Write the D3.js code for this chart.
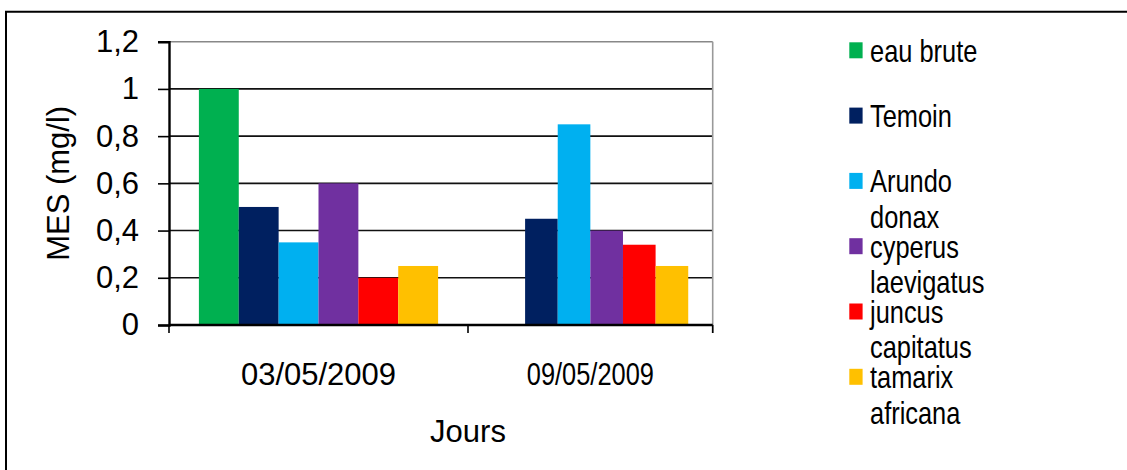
<!DOCTYPE html>
<html>
<head>
<meta charset="utf-8">
<script src="https://cdn.jsdelivr.net/npm/d3@7"></script>
<style>
  body { margin: 0; background: #fff; }
  svg { display: block; font-family: "Liberation Sans", Arial, sans-serif; }
</style>
</head>
<body>
<svg id="chart" width="1127" height="470"></svg>
<script>
const categories = ["03/05/2009", "09/05/2009"];
const series = ["eau brute", "Temoin", "Arundo donax", "cyperus laevigatus", "juncus capitatus", "tamarix africana"];
const colors = ["#00B050", "#002060", "#00B0F0", "#7030A0", "#FF0000", "#FFC000"];
// one row per series, one value per category (null = no bar)
const values = [
  [1.0, null],
  [0.5, 0.45],
  [0.35, 0.85],
  [0.6, 0.4],
  [0.2, 0.34],
  [0.25, 0.25]
];
const yTicks = [0, 0.2, 0.4, 0.6, 0.8, 1, 1.2];
const yTitle = "MES (mg/l)";
const xTitle = "Jours";

const svg = d3.select("#chart");
const plotLeft = 169, plotRight = 712.7, plotTop = 41.7, plotBottom = 325;
const squeeze = 0.82; // right part of the picture is narrower

// frame (right and bottom edges run off the picture)
svg.append("path")
  .attr("d", `M6,470V11.7H1127`)
  .attr("fill", "none")
  .attr("stroke", "#000")
  .attr("stroke-width", 2);

const y = d3.scaleLinear().domain([0, 1.2]).range([plotBottom, plotTop]);
// categories are not the same width in the picture
const x = d3.scaleLinear().domain([0, 1, 2]).range([plotLeft, 468, plotRight]);
const inner = d3.scaleBand().domain(series).range([0.1, 0.9]);

// grid
svg.append("g")
  .selectAll("line")
  .data(yTicks.filter(d => d > 0))
  .join("line")
    .attr("x1", plotLeft).attr("x2", plotRight)
    .attr("y1", d => y(d)).attr("y2", d => y(d))
    .attr("stroke", d => d === 1.2 ? "#888" : "#111")
    .attr("stroke-width", 1.6);

svg.append("line")
  .attr("x1", plotRight).attr("x2", plotRight)
  .attr("y1", plotTop).attr("y2", plotBottom + 8)
  .attr("stroke", "#999")
  .attr("stroke-width", 1.6);

// bars
const bars = [];
values.forEach((row, j) => row.forEach((v, i) => {
  if (v != null) bars.push({s: series[j], c: colors[j], i, v});
}));

svg.append("g")
  .selectAll("rect")
  .data(bars)
  .join("rect")
    .attr("x", d => x(d.i + inner(d.s)))
    .attr("width", d => x(d.i + inner(d.s) + inner.bandwidth()) - x(d.i + inner(d.s)))
    .attr("y", d => y(d.v))
    .attr("height", d => y(0) - y(d.v))
    .attr("fill", d => d.c);

// y axis
const yAxis = svg.append("g")
  .attr("transform", `translate(${plotLeft},0)`)
  .call(d3.axisLeft(y)
    .tickValues(yTicks)
    .tickSize(11)
    .tickPadding(19)
    .tickFormat(d => String(+d.toFixed(1)).replace(".", ",")));
yAxis.select(".domain").attr("stroke", "#000").attr("stroke-width", 2.4);
yAxis.selectAll(".tick line").attr("stroke", "#000").attr("stroke-width", 1.6);
yAxis.selectAll(".tick text")
  .attr("font-size", 31)
  .attr("font-family", "Liberation Sans, Arial, sans-serif")
  .attr("fill", "#000");

// x axis
svg.append("line")
  .attr("x1", plotLeft).attr("x2", plotRight)
  .attr("y1", plotBottom).attr("y2", plotBottom)
  .attr("stroke", "#000")
  .attr("stroke-width", 2.4);

svg.append("g")
  .selectAll("line")
  .data([0, 1, 2])
  .join("line")
    .attr("x1", d => x(d)).attr("x2", d => x(d))
    .attr("y1", plotBottom).attr("y2", plotBottom + 8)
    .attr("stroke", "#000")
    .attr("stroke-width", 1.6);

svg.append("g")
  .selectAll("text")
  .data(categories)
  .join("text")
    .attr("transform", (d, i) => `translate(${x(i + 0.5)},385) scale(${i === 0 ? 1 : squeeze},1)`)
    .attr("text-anchor", "middle")
    .attr("font-size", 31)
    .text(d => d);

// titles
svg.append("text")
  .attr("transform", `translate(${x(1)},441.7)`)
  .attr("text-anchor", "middle")
  .attr("font-size", 31)
  .text(xTitle);

svg.append("text")
  .attr("transform", `translate(69,${(plotTop + plotBottom) / 2}) rotate(-90)`)
  .attr("text-anchor", "middle")
  .attr("font-size", 31)
  .text(yTitle);

// legend
const legend = svg.append("g").attr("transform", "translate(849.3,61.7)");
const item = legend.selectAll("g")
  .data(series)
  .join("g")
    .attr("transform", (d, i) => `translate(0,${i * 65.3})`);

item.append("rect")
  .attr("x", 0).attr("y", -19.4)
  .attr("width", 13.3).attr("height", 16)
  .attr("fill", (d, i) => colors[i]);

item.each(function(d) {
  const g = d3.select(this).append("g")
    .attr("transform", `translate(20.7,0) scale(${squeeze},1)`);
  const t = g.append("text").attr("font-size", 31).text(d);
  if (t.node().getComputedTextLength() > 145) {
    const words = d.split(" ");
    t.text(words[0]);
    g.append("text").attr("font-size", 31).attr("y", 35.5).text(words.slice(1).join(" "));
  }
});
</script>
</body>
</html>
